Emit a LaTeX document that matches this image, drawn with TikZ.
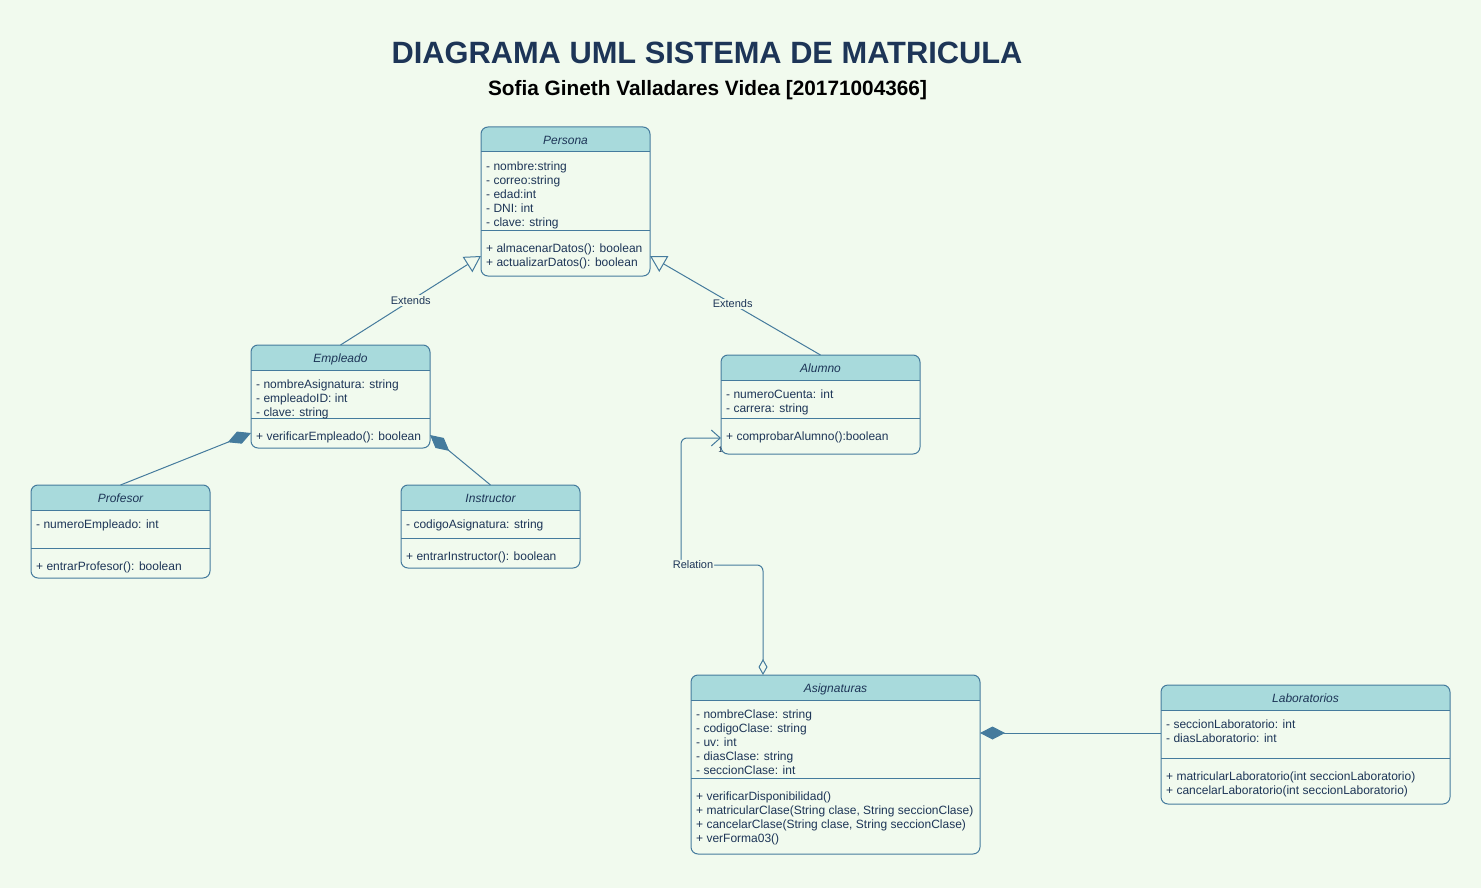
\documentclass[tikz,border=0pt]{standalone}
\usepackage{fontspec}
\setmainfont{Liberation Sans}
\usetikzlibrary{arrows.meta}
\definecolor{bg}{HTML}{F1FAEE}
\definecolor{hdr}{HTML}{A8DADC}
\definecolor{stk}{HTML}{457B9D}
\definecolor{ink}{HTML}{1D3557}
\newcommand{\umlclass}[6]{%
  \node[cbox, minimum width={#4-#2}, minimum height={#5-#3}] (#1) at ({(#2+#4)/2},{(#3+#5)/2}) {};
  \begin{scope}
    \clip[rounded corners=7pt] (#1.north west) rectangle (#1.south east);
    \fill[hdr] (#1.north west) rectangle (#4,#6);
  \end{scope}
  \draw[stk, line width=1pt, rounded corners=7pt] (#1.north west) rectangle (#1.south east);
  \draw[stk, line width=1pt] (#2,#6) -- (#4,#6);
}
\begin{document}
\begin{tikzpicture}[x=1pt,y=-1pt,
  cbox/.style={fill=bg, draw=none, inner sep=0, outer sep=0, rounded corners=7pt},
  mem/.style={anchor=base west, inner sep=0, align=left, text=ink, font=\fontsize{12}{14}\selectfont, yshift=-1pt},
  ttl/.style={anchor=base, inner sep=0, text=ink, font=\fontsize{12}{14}\selectfont\itshape, yshift=-1pt},
  lbl/.style={fill=bg, inner sep=1pt, text=ink, font=\fontsize{11}{13}\selectfont},
  conn/.style={draw=stk, line width=1pt},
  ext/.style={conn, -{Triangle[open, length=16pt, width=18pt, line width=1pt]}},
  comp/.style={conn, -{Diamond[length=25pt, width=13pt]}, stk},
]
\fill[bg] (0,0) rectangle (1481,888);
\useasboundingbox (0,0) rectangle (1481,888);

% title
\node[anchor=base, inner sep=0, text=ink, font=\bfseries\fontsize{30.8}{36}\selectfont] (title) at (707,64) {DIAGRAMA UML SISTEMA DE MATRICULA};
\node[anchor=base, inner sep=0, text=black, font=\bfseries\fontsize{20.8}{24}\selectfont] (subtitle) at (707.5,96) {Sofia Gineth Valladares Videa [20171004366]};

% Persona
\umlclass{persona}{481}{127}{650}{276}{152}
\draw[stk, line width=1pt] (481,230) -- (650,230);
\node[ttl] (persona-t) at (565.5,143.5) {Persona};
\node[mem] (persona-a) at (486,225.5) {- nombre:string\\- correo:string\\- edad:int\\- DNI: int\\- clave: string};
\node[mem] (persona-m) at (486,265.5) {+ almacenarDatos(): boolean\\+ actualizarDatos(): boolean};

% Empleado
\umlclass{empleado}{251}{345}{430}{448}{370}
\draw[stk, line width=1pt] (251,418) -- (430,418);
\node[ttl] (empleado-t) at (340.5,361.5) {Empleado};
\node[mem] (empleado-a) at (256,415.5) {- nombreAsignatura: string\\- empleadoID: int\\- clave: string};
\node[mem] (empleado-m) at (256,439.5) {+ verificarEmpleado(): boolean};

% Alumno
\umlclass{alumno}{721}{355}{920}{454}{380}
\draw[stk, line width=1pt] (721,418) -- (920,418);
\node[ttl] (alumno-t) at (820.5,371.5) {Alumno};
\node[mem] (alumno-a) at (726,411.5) {- numeroCuenta: int\\- carrera: string};
\node[mem] (alumno-m) at (726,439.5) {+ comprobarAlumno():boolean};

% Profesor
\umlclass{profesor}{31}{485}{210}{578}{510}
\draw[stk, line width=1pt] (31,548) -- (210,548);
\node[ttl] (profesor-t) at (120.5,501.5) {Profesor};
\node[mem] (profesor-a) at (36,527.5) {- numeroEmpleado: int};
\node[mem] (profesor-m) at (36,569.5) {+ entrarProfesor(): boolean};

% Instructor
\umlclass{instructor}{401}{485}{580}{568}{510}
\draw[stk, line width=1pt] (401,538) -- (580,538);
\node[ttl] (instructor-t) at (490.5,501.5) {Instructor};
\node[mem] (instructor-a) at (406,527.5) {- codigoAsignatura: string};
\node[mem] (instructor-m) at (406,559.5) {+ entrarInstructor(): boolean};

% Asignaturas
\umlclass{asig}{691}{675}{980}{854}{700}
\draw[stk, line width=1pt] (691,778) -- (980,778);
\node[ttl] (asig-t) at (835.5,691.5) {Asignaturas};
\node[mem] (asig-a) at (696,773.5) {- nombreClase: string\\- codigoClase: string\\- uv: int\\- diasClase: string\\- seccionClase: int};
\node[mem] (asig-m) at (696,841.5) {+ verificarDisponibilidad()\\+ matricularClase(String clase, String seccionClase)\\+ cancelarClase(String clase, String seccionClase)\\+ verForma03()};

% Laboratorios
\umlclass{lab}{1161}{685}{1450}{804}{710}
\draw[stk, line width=1pt] (1161,758) -- (1450,758);
\node[ttl] (lab-t) at (1305.5,701.5) {Laboratorios};
\node[mem] (lab-a) at (1166,741.5) {- seccionLaboratorio: int\\- diasLaboratorio: int};
\node[mem] (lab-m) at (1166,793.5) {+ matricularLaboratorio(int seccionLaboratorio)\\+ cancelarLaboratorio(int seccionLaboratorio)};

% Extends
\draw[ext] (empleado.north) -- node[lbl, pos=0.5] {Extends} ([yshift=-54.5pt]persona.west);
\draw[ext] (alumno.north) -- node[lbl, pos=0.515] {Extends} ([yshift=-54.5pt]persona.east);

% compositions
\draw[comp] (profesor.north) -- ([yshift=-36.5pt]empleado.west);
\draw[comp] (instructor.north) -- ([yshift=-38.5pt]empleado.east);
\draw[comp] ([yshift=11.5pt]lab.west) -- ([yshift=31.5pt]asig.east);

% relation
\draw[conn, rounded corners=6pt, {Diamond[open, length=16pt, width=9pt, line width=1pt]}-{Straight Barb[length=9pt, width=16pt, line width=1pt]}]
  ([xshift=-72.5pt]asig.north) -- (763,565) -- (681,565) node[lbl, xshift=12pt] (rel) {Relation} -- (681,438) -- ([yshift=-33.5pt]alumno.west);
\node[inner sep=0, text=ink, font=\fontsize{8}{9}\selectfont] (one) at (720.5,450) {1};
\end{tikzpicture}
\end{document}
